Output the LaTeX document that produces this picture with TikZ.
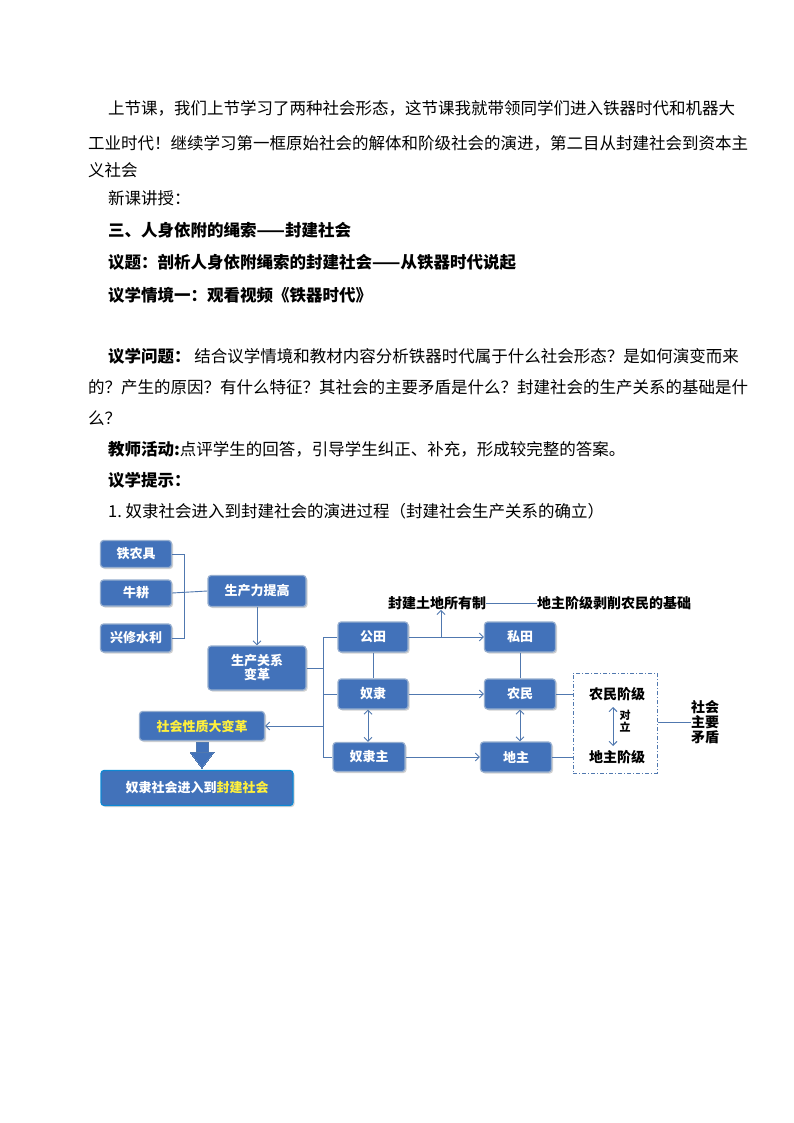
\documentclass[tikz,border=0pt]{standalone}
\usepackage{fontspec}
\setmainfont{Noto Sans CJK SC}
\usetikzlibrary{arrows.meta,shadows}
\definecolor{bx}{RGB}{66,114,186}
\definecolor{ln}{RGB}{80,120,175}
\definecolor{yl}{RGB}{255,240,60}
\tikzset{
 bb/.style={draw=ln!60,line width=1.2pt,fill=bx,rounded corners=3pt,text=white,font=\fontsize{13}{14}\selectfont\bfseries,align=center,inner sep=0pt,drop shadow={shadow xshift=1.5pt,shadow yshift=-1.5pt,fill=black!35}},
 tx/.style={anchor=west,font=\fontsize{16.5}{17}\selectfont,inner sep=0pt},
 txb/.style={tx,font=\fontsize{16.5}{17}\selectfont\bfseries},
 lk/.style={draw=ln,line width=0.9pt},
 ar/.style={lk,-{Straight Barb[length=4pt]}},
 dar/.style={lk,{Straight Barb[length=4pt]}-{Straight Barb[length=4pt]}},
 lb/.style={font=\fontsize{14}{15}\selectfont\bfseries,inner sep=0pt}
}
\begin{document}
\begin{tikzpicture}[x=1pt,y=-1pt]
\useasboundingbox (0,0) rectangle (794,1123);
\fill[white] (0,0) rectangle (794,1123);
\node[tx] (t1) at (108,108) {上节课，我们上节学习了两种社会形态，这节课我就带领同学们进入铁器时代和机器大};
\node[tx] (t2) at (88,143) {工业时代！继续学习第一框原始社会的解体和阶级社会的演进，第二目从封建社会到资本主};
\node[tx] (t3) at (88,170) {义社会};
\node[tx] (t4) at (108,198) {新课讲授：};
\node[txb] (t5) at (108,230) {三、人身依附的绳索——封建社会};
\node[txb] (t6) at (108,262) {议题：剖析人身依附绳索的封建社会——从铁器时代说起};
\node[txb] (t7) at (108,295) {议学情境一：观看视频《铁器时代》};
\node[tx] (t8) at (108,356) {\textbf{议学问题：}\ 结合议学情境和教材内容分析铁器时代属于什么社会形态？是如何演变而来};
\node[tx] (t9) at (88,387) {的？产生的原因？有什么特征？其社会的主要矛盾是什么？封建社会的生产关系的基础是什};
\node[tx] (t10) at (88,418) {么？};
\node[tx] (t11) at (108,449) {\textbf{教师活动:}点评学生的回答，引导学生纠正、补充，形成较完整的答案。};
\node[txb] (t12) at (108,480) {议学提示：};
\node[tx] (t13) at (108,511) {1.\ 奴隶社会进入到封建社会的演进过程（封建社会生产关系的确立）};

% boxes
\node[bb,minimum width=71pt,minimum height=27pt] (a1) at (136,554) {铁农具};
\node[bb,minimum width=71pt,minimum height=26pt] (a2) at (136,593) {牛耕};
\node[bb,minimum width=71pt,minimum height=28pt] (a3) at (136,638) {兴修水利};
\node[bb,minimum width=98pt,minimum height=31pt] (b1) at (257,591) {生产力提高};
\node[bb,minimum width=98pt,minimum height=44pt] (b2) at (257,668) {生产关系\\变革};
\node[bb,minimum width=70pt,minimum height=30pt] (c1) at (373,637) {公田};
\node[bb,minimum width=70pt,minimum height=30pt] (c2) at (373,694) {奴隶};
\node[bb,minimum width=72pt,minimum height=29pt] (c3) at (369,757) {奴隶主};
\node[bb,minimum width=71pt,minimum height=30pt] (d1) at (520,637) {私田};
\node[bb,minimum width=71pt,minimum height=30pt] (d2) at (520,694) {农民};
\node[bb,minimum width=71pt,minimum height=30pt] (d3) at (516,757) {地主};
\node[bb,minimum width=125pt,minimum height=29pt,text=yl] (e1) at (202,726) {社会性质大变革};
\node[bb,draw=cyan!70!blue,minimum width=192pt,minimum height=35pt] (e2) at (197,788) {奴隶社会进入到\textcolor{yl}{封建社会}};

\node[lb] (f1) at (437,603) {封建土地所有制};
\node[lb] (f2) at (614,603) {地主阶级剥削农民的基础};
\node[lb] (g1) at (617,694) {农民阶级};
\node[lb] (g2) at (617,757) {地主阶级};
\node[font=\fontsize{11}{12}\selectfont\bfseries,align=center,inner sep=0pt] (g3) at (625,721) {对\\立};
\node[draw=ln,line width=1pt,dash pattern=on 4pt off 2pt on 1pt off 2pt,minimum width=84pt,minimum height=100pt,inner sep=0pt] (box) at (615,723) {};
\node[lb,align=center] (h) at (705,722) {社会\\主要\\矛盾};

% connectors
\coordinate (bus1) at (184,593);
\draw[lk] (a1.east) -| (bus1);
\draw[lk] (a3.east) -| (bus1);
\draw[lk] (a2.east) -- (b1.west);
\draw[ar] (b1.south) -- (b2.north);
\coordinate (bus2) at (323,668);
\draw[lk] (b2.east) -- (bus2);
\draw[lk] (c1.west) -| (bus2);
\draw[lk] (c2.west) -| (bus2);
\draw[lk] (323,694) |- (c3.west);
\draw[ar] (323,726) -- (e1.east);
\draw[lk] (c1.south) -- (c2.north);
\draw[dar] (c2.south-|368,0) -- (c3.north-|368,0);
\draw[ar] (c1.east) -- (d1.west);
\draw[ar] (441,637) -- (f1.south-|441,0);
\draw[lk] (f1.east) -- (f2.west);
\draw[lk] (d1.south) -- (d2.north);
\draw[dar] (d2.south) -- (d2.south|-d3.north);
\draw[ar] (c2.east) -- (d2.west);
\draw[ar] (c3.east) -- (d3.west);
\draw[lk] (d2.east) -- (box.west|-d2.east);
\draw[lk] (d3.east) -- (box.west|-d3.east);
\draw[dar] (613,707) -- (613,746);
\draw[lk] (box.east|-h.west) -- (h.west);
\draw[draw=ln,fill=bx,line width=0pt] (196,742) rectangle (208,752) -- (214,752) -- (202,768) -- (190,752) -- (196,752);
\end{tikzpicture}
\end{document}
